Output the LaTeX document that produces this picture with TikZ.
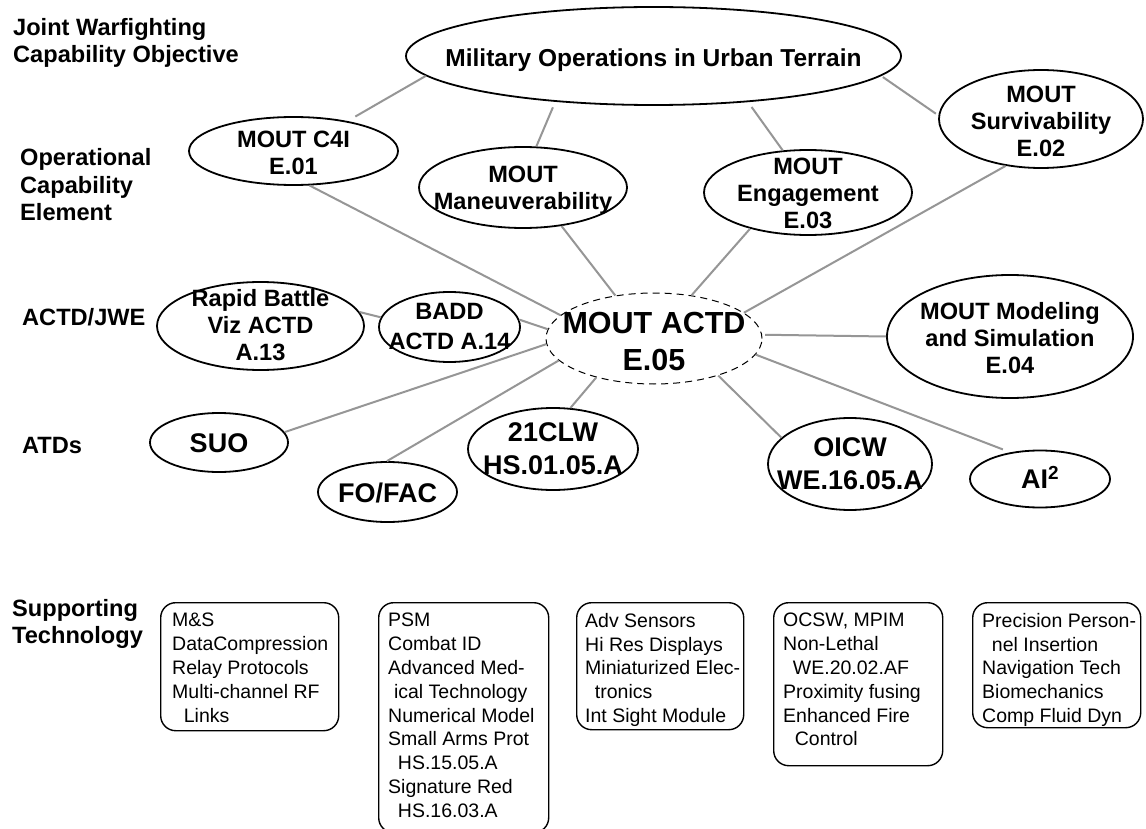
\documentclass[tikz,border=0pt]{standalone}
\usepackage{fontspec}
\setmainfont{Liberation Sans}
\usetikzlibrary{shapes.geometric}
\definecolor{linkgray}{RGB}{150,150,150}

\begin{document}
\begin{tikzpicture}[x=1pt,y=-1pt,
  oval/.style={ellipse, draw=black, line width=1.8pt, inner sep=0pt},
  hub/.style={ellipse, draw=black, line width=1pt, dash pattern=on 7pt off 5pt, inner sep=0pt},
  otext/.style={font=\bfseries\fontsize{23.6}{27}\selectfont, align=center, inner sep=0pt},
  atext/.style={font=\bfseries\fontsize{27}{33}\selectfont, align=center, inner sep=0pt},
  ctext/.style={font=\bfseries\fontsize{30.5}{37}\selectfont, align=center, inner sep=0pt},
  lbl/.style={font=\bfseries\fontsize{23.6}{27.5}\selectfont, align=left, inner sep=0pt, anchor=west},
  tbox/.style={draw=black, line width=1.4pt, rounded corners=15pt, inner sep=0pt, anchor=north west},
  ttext/.style={font=\fontsize{19.5}{23.8}\selectfont, align=left, inner sep=0pt, anchor=north west},
  link/.style={draw=linkgray, line width=2pt}
]
\fill[white] (0,0) rectangle (1146,829);
\useasboundingbox (0,0) rectangle (1146,829);

% row labels
\node[lbl] (l1) at (13,43) {Joint Warfighting\\Capability Objective};
\node[lbl] (l2) at (20,185) {Operational\\Capability\\Element};
\node[lbl] (l3) at (22,317) {ACTD/JWE};
\node[lbl] (l4) at (22,445) {ATDs};
\node[lbl] (l5) at (12,624) {Supporting\\Technology};

% ellipses
\node[oval, minimum width=495pt, minimum height=98pt]  (muo)  at (653.5,56) {};
\node[oval, minimum width=209pt, minimum height=68pt]  (c4i)  at (293.5,151) {};
\node[oval, minimum width=208pt, minimum height=81pt]  (man)  at (523,187.5) {};
\node[oval, minimum width=208pt, minimum height=85pt]  (eng)  at (808,192.5) {};
\node[oval, minimum width=204pt, minimum height=98pt]  (sur)  at (1041,119) {};
\node[hub,  minimum width=216pt, minimum height=91pt]  (act)  at (654,338.5) {};
\node[oval, minimum width=207pt, minimum height=88pt]  (rbv)  at (260.5,326) {};
\node[oval, minimum width=141pt, minimum height=70pt]  (badd) at (449.5,327) {};
\node[oval, minimum width=246pt, minimum height=123pt] (mod)  at (1010,336.5) {};
\node[oval, minimum width=138pt, minimum height=59pt]  (suo)  at (219,442.5) {};
\node[oval, minimum width=139pt, minimum height=60pt]  (fo)   at (387.5,492) {};
\node[oval, minimum width=170pt, minimum height=82pt]  (clw)  at (553,449) {};
\node[oval, minimum width=164pt, minimum height=92pt]  (oicw) at (850,464) {};
\node[oval, minimum width=140pt, minimum height=57pt]  (ai)   at (1040,479) {};

% connectors
\draw[link, shorten >=9pt] (muo.185) -- (c4i.29);
\draw[link, shorten <=6pt] (muo.205.6) -- (man.72);
\draw[link, shorten <=6pt] (muo.334.6) -- (eng.121);
\draw[link, shorten <=2pt, shorten >=3pt] (muo.355) -- (sur.178);
\draw[link] (c4i.295) -- (act.166);
\draw[link] (man.315) -- (act.132);
\draw[link] (eng.212) -- (act.49.5);
\draw[link] (sur.233) -- (act.16);
\draw[link] (rbv.8) -- (badd.172);
\draw[link] (badd.6) -- (act.175);
\draw[link] (suo.9) -- (act.183);
\draw[link] (fo.91) -- (act.193);
\draw[link] (clw.67) -- (act.214);
\draw[link] (oicw.159) -- (act.330);
\draw[link, shorten >=8pt] (act.351) -- (ai.138);
\draw[link, shorten <=3pt] (act.2) -- (mod.180);

% ellipse texts
\node[otext, font=\bfseries\fontsize{24.5}{27}\selectfont] (muo-t) at (653.5,60) {Military Operations in Urban Terrain};
\node[otext] (c4i-t)  at (293.5,153) {MOUT C4I\\E.01};
\node[otext] (man-t)  at (523,190) {MOUT\\Maneuverability};
\node[otext] (eng-t)  at (808,193) {MOUT\\Engagement\\E.03};
\node[otext] (sur-t)  at (1041,121) {MOUT\\Survivability\\E.02};
\node[ctext] (act-t)  at (654,341) {MOUT ACTD\\E.05};
\node[otext] (rbv-t)  at (260.5,325) {Rapid Battle\\Viz ACTD\\A.13};
\node[otext, font=\bfseries\fontsize{23.6}{30}\selectfont] (badd-t) at (449.5,326) {BADD\\ACTD A.14};
\node[otext] (mod-t)  at (1010,338) {MOUT Modeling\\and Simulation\\E.04};
\node[atext] (suo-t)  at (219,443) {SUO};
\node[atext] (fo-t)   at (387.5,493) {FO/FAC};
\node[atext] (clw-t)  at (553,449) {21CLW\\HS.01.05.A};
\node[atext] (oicw-t) at (850,464) {OICW\\WE.16.05.A};
\node[atext] (ai-t)   at (1040,477) {AI\textsuperscript{2}};

% supporting technology boxes
\node[tbox, minimum width=178pt, minimum height=128pt] (b1) at (160,602) {};
\node[tbox, minimum width=170pt, minimum height=230pt] (b2) at (378,602) {};
\node[tbox, minimum width=167pt, minimum height=127pt] (b3) at (576,602) {};
\node[tbox, minimum width=169pt, minimum height=163pt] (b4) at (773,602) {};
\node[tbox, minimum width=168pt, minimum height=125pt] (b5) at (972,602) {};

\node[ttext] (b1-t) at (172,613) {M\&S\\DataCompression\\Relay Protocols\\Multi-channel RF\\\hspace*{0.6em}Links};
\node[ttext] (b2-t) at (388,613) {PSM\\Combat ID\\Advanced Med-\\\hspace*{0.3em}ical Technology\\Numerical Model\\Small Arms Prot\\\hspace*{0.5em}HS.15.05.A\\Signature Red\\\hspace*{0.5em}HS.16.03.A};
\node[ttext] (b3-t) at (585,613) {Adv Sensors\\Hi Res Displays\\Miniaturized Elec-\\\hspace*{0.5em}tronics\\Int Sight Module};
\node[ttext] (b4-t) at (783,613) {OCSW, MPIM\\Non-Lethal\\\hspace*{0.5em}WE.20.02.AF\\Proximity fusing\\Enhanced Fire\\\hspace*{0.6em}Control};
\node[ttext] (b5-t) at (982,613) {Precision Person-\\\hspace*{0.5em}nel Insertion\\Navigation Tech\\Biomechanics\\Comp Fluid Dyn};
\end{tikzpicture}
\end{document}
